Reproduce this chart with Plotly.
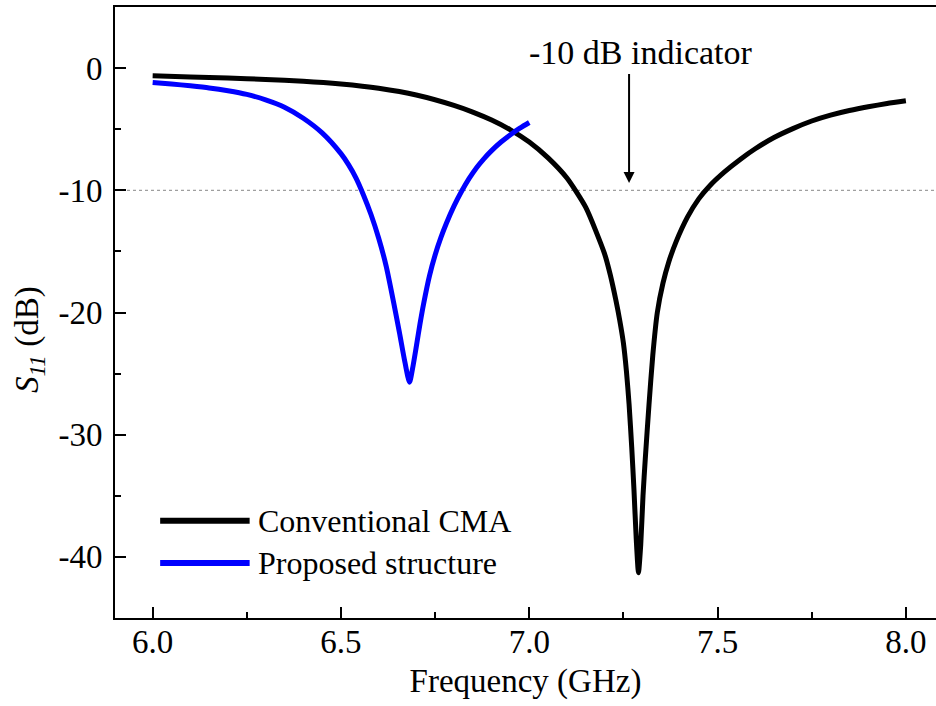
import plotly.graph_objects as go

# ---- data ----
conv_freq = [6.0, 6.1, 6.2, 6.3, 6.4, 6.5, 6.6, 6.7, 6.8, 6.85, 6.9, 6.95, 7.0, 7.05,
             7.1, 7.15, 7.2, 7.215, 7.23, 7.24, 7.25, 7.258, 7.265, 7.272, 7.278,
             7.284, 7.29, 7.296, 7.302, 7.308, 7.318, 7.328, 7.34, 7.355, 7.37,
             7.39, 7.42, 7.45, 7.48, 7.52, 7.56, 7.6, 7.65, 7.7, 7.75, 7.8, 7.85,
             7.9, 7.95, 8.0]
conv_s11 = [-0.63, -0.72, -0.82, -0.93, -1.07, -1.3, -1.65, -2.2, -3.05, -3.6, -4.25,
            -5.05, -6.05, -7.35, -9.0, -11.4, -15.2, -16.9, -19.0, -20.6, -22.5, -24.8,
            -27.5, -31.0, -34.5, -38.5, -41.3, -39.0, -35.0, -32.0, -27.5, -23.5,
            -20.0, -17.6, -15.9, -14.2, -12.2, -10.7, -9.6, -8.45, -7.47, -6.6,
            -5.68, -4.95, -4.33, -3.85, -3.47, -3.16, -2.9, -2.68]

prop_freq = [6.0, 6.05, 6.1, 6.15, 6.2, 6.25, 6.3, 6.35, 6.4, 6.45, 6.5, 6.52, 6.54,
             6.56, 6.58, 6.6, 6.62, 6.64, 6.655, 6.67, 6.682, 6.69, 6.7, 6.71, 6.72,
             6.735, 6.75, 6.765, 6.78, 6.8, 6.82, 6.84, 6.86, 6.88, 6.9, 6.925,
             6.95, 6.975, 7.0]
prop_s11 = [-1.17, -1.3, -1.45, -1.62, -1.85, -2.15, -2.6, -3.2, -4.1, -5.3, -7.0,
            -7.9, -9.0, -10.4, -12.0, -13.9, -16.2, -19.2, -21.6, -24.1, -25.7, -24.6,
            -22.8, -20.9, -19.2, -17.0, -15.3, -13.9, -12.7, -11.3, -10.1, -9.05,
            -8.15, -7.4, -6.75, -6.05, -5.45, -4.92, -4.45]

series_names = ["Conventional CMA", "Proposed structure"]
series_colors = ["#000000", "#0000ff"]

x_ticks = [6.0, 6.5, 7.0, 7.5, 8.0]
x_ticklabels = ["6.0", "6.5", "7.0", "7.5", "8.0"]
y_ticks = [0, -10, -20, -30, -40]
y_ticklabels = ["0", "-10", "-20", "-30", "-40"]
threshold_db = -10
indicator_freq = 7.265

FONT = "Liberation Serif, Times New Roman, serif"

fig = go.Figure()
fig.add_trace(go.Scatter(x=conv_freq, y=conv_s11, mode="lines", name=series_names[0],
                         line=dict(color=series_colors[0], width=5, shape="spline",
                                   smoothing=0.6), showlegend=False))
fig.add_trace(go.Scatter(x=prop_freq, y=prop_s11, mode="lines", name=series_names[1],
                         line=dict(color=series_colors[1], width=5, shape="spline",
                                   smoothing=0.7), showlegend=False))

# -10 dB dotted reference line
fig.add_shape(type="line", xref="paper", x0=0, x1=1, yref="y", y0=threshold_db, y1=threshold_db,
              line=dict(color="#888888", width=1, dash="dot"), layer="below")

# indicator arrow + text
fig.add_annotation(x=indicator_freq, y=-9.4, ax=indicator_freq, ay=-0.35,
                   xref="x", yref="y", axref="x", ayref="y", text="",
                   showarrow=True, arrowhead=2, arrowsize=1.1, arrowwidth=2, arrowcolor="black")
fig.add_annotation(x=7.297, y=1.3, xref="x", yref="y", text="-10 dB indicator",
                   showarrow=False, font=dict(family=FONT, size=34, color="black"))

# manual legend (long line samples as in the reference)
legend_y = [0.159, 0.090]
for i, nm in enumerate(series_names):
    fig.add_shape(type="line", xref="paper", yref="paper", x0=0.055, x1=0.164,
                  y0=legend_y[i], y1=legend_y[i],
                  line=dict(color=series_colors[i], width=6))
    fig.add_annotation(xref="paper", yref="paper", x=0.172, y=legend_y[i], xanchor="left",
                       yanchor="middle", text=nm, showarrow=False,
                       font=dict(family=FONT, size=32, color="black"))

# y title
fig.add_annotation(xref="paper", yref="paper", x=0, xshift=-85, y=0.455, textangle=-90,
                   text="<i>S</i><sub><i>11</i></sub> (dB)", showarrow=False,
                   xanchor="center", yanchor="middle",
                   font=dict(family=FONT, size=33, color="black"))

fig.update_layout(
    width=936, height=706,
    margin=dict(l=115, r=0, t=7, b=88),
    paper_bgcolor="white", plot_bgcolor="white",
    font=dict(family=FONT, size=33, color="black"),
    xaxis=dict(range=[5.9, 8.08], tickvals=x_ticks, ticktext=x_ticklabels,
               showgrid=False, zeroline=False, showline=True, linecolor="black",
               linewidth=2, mirror=True, ticks="inside", ticklen=11, tickwidth=2,
               tickcolor="black", ticklabelstandoff=-7,
               minor=dict(dtick=0.25, tick0=6.0, ticks="inside", ticklen=6,
                          tickwidth=2, tickcolor="black", showgrid=False),
               title=dict(text="Frequency (GHz)", standoff=10,
                          font=dict(family=FONT, size=33))),
    yaxis=dict(range=[-45, 5], tickvals=y_ticks, ticktext=y_ticklabels,
               showgrid=False, zeroline=False, showline=True, linecolor="black",
               linewidth=2, ticks="inside", ticklen=11, tickwidth=2,
               tickcolor="black", ticklabelstandoff=4,
               minor=dict(dtick=5, tick0=0, ticks="inside", ticklen=6,
                          tickwidth=2, tickcolor="black", showgrid=False)),
)

fig.write_html("out.html")
